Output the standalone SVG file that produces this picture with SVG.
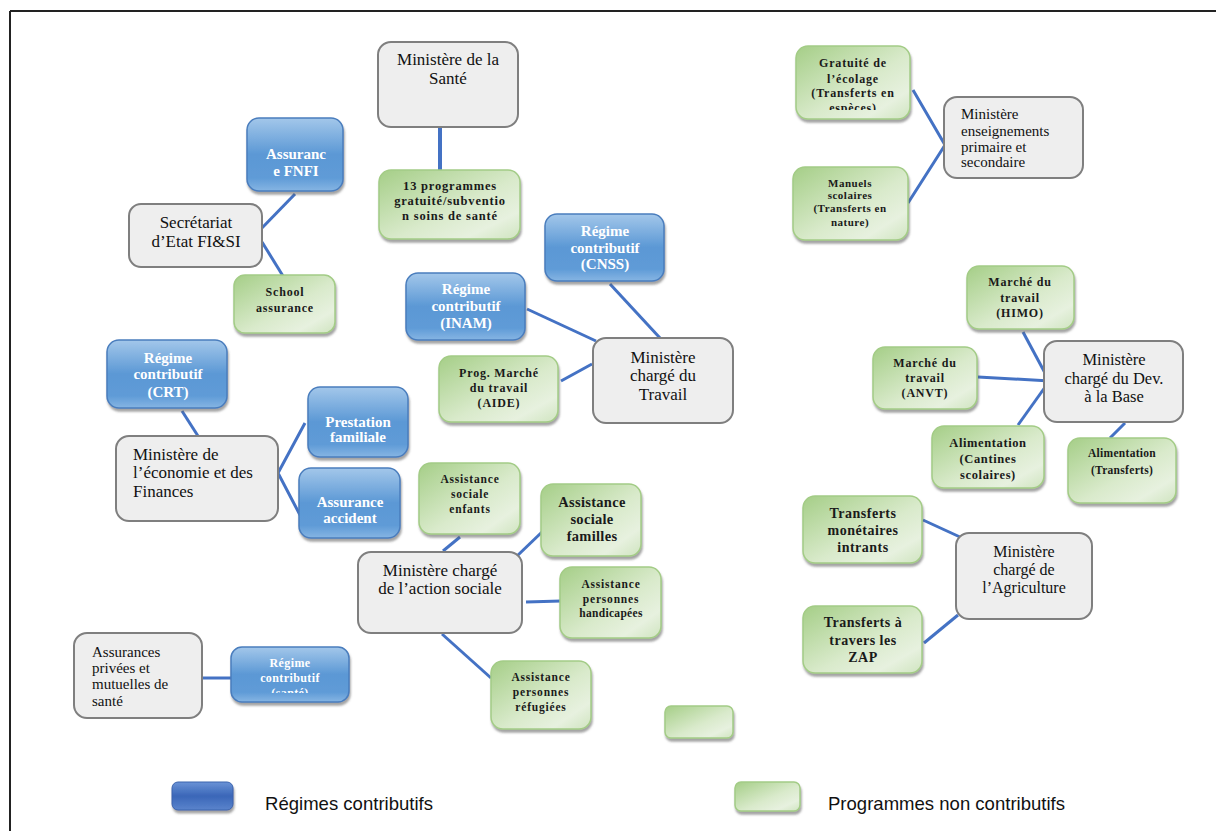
<svg xmlns="http://www.w3.org/2000/svg" width="1216" height="831" viewBox="0 0 1216 831">
<defs>
<linearGradient id="gBlue" x1="0" y1="0" x2="0" y2="1">
<stop offset="0" stop-color="#a3c7ea"/><stop offset="0.5" stop-color="#5b98d5"/><stop offset="0.82" stop-color="#5f9bd7"/><stop offset="1" stop-color="#86b5e3"/>
</linearGradient>
<linearGradient id="gGreen" x1="0" y1="0" x2="1" y2="1">
<stop offset="0" stop-color="#a5ce87"/><stop offset="0.55" stop-color="#d9eacb"/><stop offset="0.8" stop-color="#e7f1df"/><stop offset="1" stop-color="#cfe4bf"/>
</linearGradient>
<linearGradient id="gBlueLeg" x1="0" y1="0" x2="0" y2="1">
<stop offset="0" stop-color="#6a93d6"/><stop offset="0.5" stop-color="#3a66b8"/><stop offset="1" stop-color="#5b84cc"/>
</linearGradient>
<filter id="sh" x="-10%" y="-10%" width="125%" height="130%">
<feDropShadow dx="1" dy="3" stdDeviation="1" flood-color="#5a5a5a" flood-opacity="0.55"/>
</filter>
<clipPath id="cGrat"><rect x="796" y="46" width="114" height="64"/></clipPath>
<clipPath id="cSante"><rect x="231" y="647" width="118" height="46"/></clipPath>
<clipPath id="cCant"><rect x="932" y="426" width="112" height="57"/></clipPath>
</defs>
<style>
.gray{fill:#eeeeee;stroke:#7f7f7f;stroke-width:2}
.blue{fill:url(#gBlue);stroke:#4a7dbd;stroke-width:1.5;filter:url(#sh)}
.green{fill:url(#gGreen);stroke:#a3cc86;stroke-width:1.5;filter:url(#sh)}
.tg{font-family:"Liberation Serif","Times New Roman",serif;font-size:17px;fill:#111}
.tb{font-family:"Liberation Serif","Times New Roman",serif;font-weight:bold;font-size:15px;fill:#ffffff;text-anchor:middle}
.tn{font-family:"Liberation Serif","Times New Roman",serif;font-weight:bold;font-size:12px;letter-spacing:0.8px;fill:#1a1a1a;text-anchor:middle}
.c{text-anchor:middle}
.conn line,.conn polyline{stroke:#4472c4;stroke-width:3;fill:none}
.leg{font-family:"Liberation Sans Narrow","Liberation Sans",Arial,sans-serif;font-size:19px;fill:#111}
</style>
<rect x="0" y="0" width="1216" height="831" fill="#ffffff"/>
<g id="frame">
<line x1="10" y1="11" x2="1216" y2="11" stroke="#222" stroke-width="2"/>
<line x1="10" y1="11" x2="10" y2="831" stroke="#222" stroke-width="2"/>
</g>
<g id="connectors" class="conn">
<line x1="440" y1="127" x2="440" y2="170" style="stroke-width:4"/>
<line x1="295" y1="194" x2="260" y2="230"/>
<line x1="262" y1="242" x2="283" y2="276"/>
<line x1="610" y1="284" x2="660" y2="338"/>
<line x1="527" y1="309" x2="596" y2="341"/>
<line x1="561" y1="381" x2="592" y2="364"/>
<polyline points="913,90 945,145 908,203"/>
<line x1="1023" y1="332" x2="1045" y2="373"/>
<line x1="978" y1="377" x2="1050" y2="381"/>
<line x1="1018" y1="425" x2="1048" y2="383"/>
<line x1="1125" y1="423" x2="1110" y2="438"/>
<line x1="182" y1="411" x2="198" y2="436"/>
<polyline points="305,423 278,473 300,515"/>
<line x1="460" y1="537" x2="443" y2="551"/>
<line x1="542" y1="532" x2="517" y2="556"/>
<line x1="526" y1="602" x2="561" y2="601"/>
<line x1="442" y1="634" x2="491" y2="678"/>
<line x1="923" y1="520" x2="960" y2="537"/>
<line x1="924" y1="643" x2="958" y2="615"/>
<line x1="198" y1="678" x2="231" y2="678"/>
</g>
<g id="n-sante"><rect class="gray" x="378" y="42" width="140" height="85" rx="13"/>
<text class="tg c"><tspan x="448" y="65">Ministère de la</tspan><tspan x="448" y="84">Santé</tspan></text></g>
<g id="n-13prog"><rect class="green" x="379" y="170" width="141" height="69" rx="12"/>
<text class="tn" style="font-size:12.5px"><tspan x="450" y="190">13 programmes</tspan><tspan x="450" y="205">gratuité/subventio</tspan><tspan x="450" y="220">n soins de santé</tspan></text></g>
<g id="n-fnfi"><rect class="blue" x="247" y="118" width="96" height="73" rx="12"/>
<text class="tb"><tspan x="296" y="159">Assuranc</tspan><tspan x="296" y="176">e FNFI</tspan></text></g>
<g id="n-secr"><rect class="gray" x="129" y="204" width="133" height="63" rx="12"/>
<text class="tg c"><tspan x="196" y="228">Secrétariat</tspan><tspan x="196" y="247">d’Etat FI&amp;SI</tspan></text></g>
<g id="n-school"><rect class="green" x="234" y="275" width="101" height="58" rx="11"/>
<text class="tn"><tspan x="285" y="296">School</tspan><tspan x="285" y="312">assurance</tspan></text></g>
<g id="n-cnss"><rect class="blue" x="545" y="214" width="119" height="67" rx="12"/>
<text class="tb"><tspan x="605" y="236">Régime</tspan><tspan x="605" y="253">contributif</tspan><tspan x="605" y="269">(CNSS)</tspan></text></g>
<g id="n-inam"><rect class="blue" x="406" y="273" width="119" height="67" rx="12"/>
<text class="tb"><tspan x="466" y="294">Régime</tspan><tspan x="466" y="311">contributif</tspan><tspan x="466" y="328">(INAM)</tspan></text></g>
<g id="n-aide"><rect class="green" x="439" y="356" width="119" height="66" rx="12"/>
<text class="tn"><tspan x="499" y="377">Prog. Marché</tspan><tspan x="499" y="392">du travail</tspan><tspan x="499" y="407">(AIDE)</tspan></text></g>
<g id="n-travail"><rect class="gray" x="593" y="338" width="140" height="85" rx="13"/>
<text class="tg c"><tspan x="663" y="363">Ministère</tspan><tspan x="663" y="381">chargé du</tspan><tspan x="663" y="400">Travail</tspan></text></g>
<g id="n-crt"><rect class="blue" x="107" y="340" width="120" height="68" rx="12"/>
<text class="tb"><tspan x="168" y="363">Régime</tspan><tspan x="168" y="379">contributif</tspan><tspan x="168" y="397">(CRT)</tspan></text></g>
<g id="n-eco"><rect class="gray" x="116" y="436" width="162" height="85" rx="13"/>
<text class="tg"><tspan x="133" y="460">Ministère de</tspan><tspan x="133" y="478">l’économie et des</tspan><tspan x="133" y="497">Finances</tspan></text></g>
<g id="n-prest"><rect class="blue" x="308" y="387" width="100" height="70" rx="12"/>
<text class="tb"><tspan x="358" y="427">Prestation</tspan><tspan x="358" y="442">familiale</tspan></text></g>
<g id="n-acc"><rect class="blue" x="299" y="468" width="101" height="70" rx="12"/>
<text class="tb"><tspan x="350" y="507">Assurance</tspan><tspan x="350" y="523">accident</tspan></text></g>
<g id="n-enfants"><rect class="green" x="419" y="463" width="101" height="71" rx="12"/>
<text class="tn" style="font-size:11.5px"><tspan x="470" y="483">Assistance</tspan><tspan x="470" y="498">sociale</tspan><tspan x="470" y="513">enfants</tspan></text></g>
<g id="n-familles"><rect class="green" x="541" y="484" width="100" height="72" rx="12"/>
<text class="tn" style="font-size:14.5px;letter-spacing:0.3px"><tspan x="592" y="507">Assistance</tspan><tspan x="592" y="524">sociale</tspan><tspan x="592" y="541">familles</tspan></text></g>
<g id="n-action"><rect class="gray" x="358" y="552" width="164" height="81" rx="13"/>
<text class="tg c"><tspan x="440" y="576">Ministère chargé</tspan><tspan x="440" y="594">de l’action sociale</tspan></text></g>
<g id="n-handi"><rect class="green" x="560" y="567" width="101" height="71" rx="12"/>
<text class="tn" style="font-size:11.5px"><tspan x="611" y="588">Assistance</tspan><tspan x="611" y="603">personnes</tspan><tspan x="611" y="617" style="letter-spacing:0.3px">handicapées</tspan></text></g>
<g id="n-refug"><rect class="green" x="491" y="661" width="100" height="68" rx="12"/>
<text class="tn" style="font-size:11.5px"><tspan x="541" y="681">Assistance</tspan><tspan x="541" y="696">personnes</tspan><tspan x="541" y="711">réfugiées</tspan></text></g>
<g id="n-privees"><rect class="gray" x="74" y="633" width="128" height="85" rx="13"/>
<text class="tg" style="font-size:15px"><tspan x="92" y="657">Assurances</tspan><tspan x="92" y="673">privées et</tspan><tspan x="92" y="689">mutuelles de</tspan><tspan x="92" y="706">santé</tspan></text></g>
<g id="n-rsante"><rect class="blue" x="231" y="647" width="118" height="55" rx="11"/>
<text class="tb" style="font-size:12px;letter-spacing:0.4px" clip-path="url(#cSante)"><tspan x="290" y="667">Régime</tspan><tspan x="290" y="682">contributif</tspan><tspan x="290" y="697">(santé)</tspan></text></g>
<g id="n-grat"><rect class="green" x="796" y="46" width="114" height="73" rx="12"/>
<text class="tn" clip-path="url(#cGrat)"><tspan x="853" y="67">Gratuité de</tspan><tspan x="853" y="83">l’écolage</tspan><tspan x="853" y="97">(Transferts en</tspan><tspan x="853" y="112">espèces)</tspan></text></g>
<g id="n-manuels"><rect class="green" x="793" y="167" width="115" height="73" rx="12"/>
<text class="tn" style="font-size:11px;letter-spacing:0.5px"><tspan x="850" y="187">Manuels</tspan><tspan x="850" y="199">scolaires</tspan><tspan x="850" y="212">(Transferts en</tspan><tspan x="850" y="226">nature)</tspan></text></g>
<g id="n-ens"><rect class="gray" x="944" y="97" width="139" height="81" rx="13"/>
<text class="tg" style="font-size:15px"><tspan x="961" y="119">Ministère</tspan><tspan x="961" y="136">enseignements</tspan><tspan x="961" y="152">primaire et</tspan><tspan x="961" y="167">secondaire</tspan></text></g>
<g id="n-himo"><rect class="green" x="967" y="266" width="107" height="63" rx="12"/>
<text class="tn"><tspan x="1020" y="286">Marché du</tspan><tspan x="1020" y="302">travail</tspan><tspan x="1020" y="317">(HIMO)</tspan></text></g>
<g id="n-anvt"><rect class="green" x="873" y="347" width="104" height="62" rx="12"/>
<text class="tn"><tspan x="925" y="367">Marché du</tspan><tspan x="925" y="382">travail</tspan><tspan x="925" y="397">(ANVT)</tspan></text></g>
<g id="n-devbase"><rect class="gray" x="1044" y="341" width="139" height="81" rx="13"/>
<text class="tg c" style="font-size:16.5px"><tspan x="1114" y="365">Ministère</tspan><tspan x="1114" y="384">chargé du Dev.</tspan><tspan x="1114" y="402">à la Base</tspan></text></g>
<g id="n-cantines"><rect class="green" x="932" y="426" width="112" height="62" rx="12"/>
<text class="tn" style="font-size:12.5px;letter-spacing:0.6px" clip-path="url(#cCant)"><tspan x="988" y="447">Alimentation</tspan><tspan x="988" y="463">(Cantines</tspan><tspan x="988" y="479">scolaires)</tspan></text></g>
<g id="n-alimtr"><rect class="green" x="1068" y="438" width="108" height="65" rx="12"/>
<text class="tn" style="font-size:11.5px;letter-spacing:0.3px"><tspan x="1122" y="457">Alimentation</tspan><tspan x="1122" y="474">(Transferts)</tspan></text></g>
<g id="n-intrants"><rect class="green" x="803" y="496" width="119" height="67" rx="12"/>
<text class="tn" style="font-size:14px;letter-spacing:0.5px"><tspan x="863" y="518">Transferts</tspan><tspan x="863" y="535">monétaires</tspan><tspan x="863" y="552">intrants</tspan></text></g>
<g id="n-zap"><rect class="green" x="803" y="606" width="119" height="67" rx="12"/>
<text class="tn" style="font-size:14px;letter-spacing:0.5px"><tspan x="863" y="627">Transferts à</tspan><tspan x="863" y="645">travers les</tspan><tspan x="863" y="662">ZAP</tspan></text></g>
<g id="n-agri"><rect class="gray" x="956" y="533" width="136" height="86" rx="13"/>
<text class="tg c" style="font-size:16px"><tspan x="1024" y="557">Ministère</tspan><tspan x="1024" y="575">chargé de</tspan><tspan x="1024" y="593">l’Agriculture</tspan></text></g>
<g id="n-empty"><rect class="green" x="665" y="706" width="68" height="32" rx="6"/></g>
<g id="legend">
<rect x="172" y="782" width="61" height="28" rx="6" fill="url(#gBlueLeg)" stroke="#3a62ad" stroke-width="1" filter="url(#sh)"/>
<text class="leg" x="265" y="810" textLength="168" lengthAdjust="spacingAndGlyphs">Régimes contributifs</text>
<rect x="735" y="782" width="65" height="29" rx="6" class="green"/>
<text class="leg" x="828" y="810" textLength="237" lengthAdjust="spacingAndGlyphs">Programmes non contributifs</text>
</g>
</svg>
